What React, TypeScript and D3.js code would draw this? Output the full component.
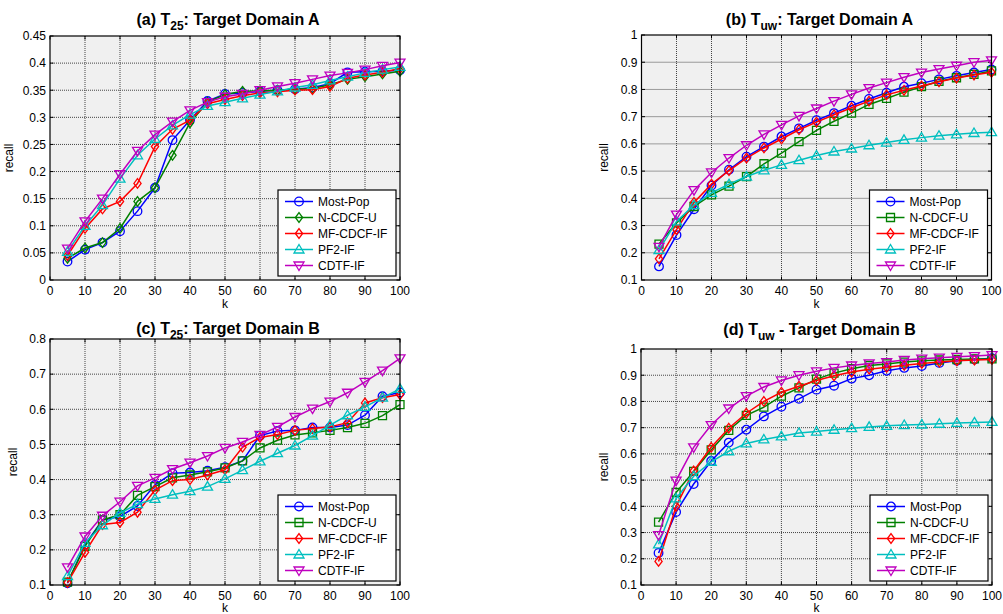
import React from "react";
import * as d3 from "d3";

const kValues = [5, 10, 15, 20, 25, 30, 35, 40, 45, 50, 55, 60, 65, 70, 75, 80, 85, 90, 95, 100];
const xTicks = [0, 10, 20, 30, 40, 50, 60, 70, 80, 90, 100];
const seriesNames = ["Most-Pop", "N-CDCF-U", "MF-CDCF-IF", "PF2-IF", "CDTF-IF"];
const seriesColors = ["#0000ff", "#008000", "#ff0000", "#00bfbf", "#bf00bf"];

// Panel (a) T25 Target Domain A
const aMostPop = [0.034, 0.056, 0.069, 0.09, 0.127, 0.17, 0.258, 0.295, 0.33, 0.343, 0.345, 0.348, 0.35, 0.352, 0.355, 0.362, 0.383, 0.384, 0.385, 0.387];
const aNCDCFU = [0.04, 0.059, 0.069, 0.095, 0.145, 0.17, 0.23, 0.29, 0.328, 0.342, 0.348, 0.349, 0.35, 0.352, 0.353, 0.36, 0.37, 0.375, 0.38, 0.385];
const aMFCDCFIF = [0.045, 0.095, 0.131, 0.145, 0.178, 0.246, 0.278, 0.295, 0.325, 0.333, 0.34, 0.345, 0.347, 0.35, 0.351, 0.357, 0.372, 0.378, 0.383, 0.39];
const aPF2IF = [0.052, 0.1, 0.138, 0.187, 0.23, 0.26, 0.285, 0.305, 0.321, 0.328, 0.335, 0.342, 0.348, 0.355, 0.36, 0.368, 0.375, 0.382, 0.388, 0.393];
const aCDTFIF = [0.058, 0.108, 0.15, 0.195, 0.238, 0.268, 0.292, 0.313, 0.328, 0.338, 0.343, 0.35, 0.357, 0.363, 0.37, 0.377, 0.382, 0.388, 0.395, 0.401];

// Panel (b) Tuw Target Domain A
const bMostPop = [0.15, 0.265, 0.36, 0.447, 0.505, 0.553, 0.59, 0.627, 0.657, 0.687, 0.713, 0.74, 0.765, 0.788, 0.81, 0.823, 0.837, 0.85, 0.862, 0.873];
const bNCDCFU = [0.232, 0.31, 0.37, 0.413, 0.445, 0.48, 0.527, 0.566, 0.608, 0.65, 0.683, 0.713, 0.745, 0.767, 0.79, 0.81, 0.83, 0.843, 0.855, 0.868];
const bMFCDCFIF = [0.178, 0.285, 0.385, 0.452, 0.502, 0.548, 0.585, 0.618, 0.652, 0.68, 0.707, 0.733, 0.757, 0.78, 0.797, 0.813, 0.828, 0.842, 0.853, 0.863];
const bPF2IF = [0.21, 0.315, 0.375, 0.42, 0.452, 0.48, 0.503, 0.523, 0.54, 0.557, 0.572, 0.583, 0.595, 0.605, 0.615, 0.623, 0.63, 0.635, 0.64, 0.643];
const bCDTFIF = [0.222, 0.34, 0.43, 0.495, 0.548, 0.595, 0.635, 0.67, 0.703, 0.73, 0.757, 0.782, 0.805, 0.825, 0.845, 0.862, 0.875, 0.887, 0.9, 0.907];

// Panel (c) T25 Target Domain B
const cMostPop = [0.105, 0.215, 0.285, 0.295, 0.325, 0.385, 0.418, 0.42, 0.425, 0.435, 0.453, 0.525, 0.538, 0.54, 0.548, 0.548, 0.555, 0.583, 0.637, 0.648];
const cNCDCFU = [0.108, 0.21, 0.285, 0.3, 0.355, 0.38, 0.405, 0.413, 0.422, 0.433, 0.453, 0.49, 0.512, 0.527, 0.533, 0.54, 0.548, 0.56, 0.582, 0.613];
const cMFCDCFIF = [0.107, 0.193, 0.272, 0.278, 0.307, 0.37, 0.397, 0.4, 0.413, 0.428, 0.492, 0.52, 0.528, 0.54, 0.545, 0.55, 0.562, 0.618, 0.633, 0.642];
const cPF2IF = [0.125, 0.22, 0.27, 0.305, 0.33, 0.345, 0.357, 0.367, 0.38, 0.402, 0.427, 0.452, 0.475, 0.497, 0.525, 0.555, 0.583, 0.607, 0.633, 0.658];
const cCDTFIF = [0.15, 0.238, 0.297, 0.337, 0.382, 0.405, 0.43, 0.448, 0.467, 0.49, 0.507, 0.527, 0.55, 0.578, 0.602, 0.622, 0.647, 0.678, 0.71, 0.745];

// Panel (d) Tuw Target Domain B
const dMostPop = [0.222, 0.378, 0.485, 0.573, 0.643, 0.692, 0.743, 0.78, 0.81, 0.845, 0.86, 0.887, 0.9, 0.917, 0.928, 0.935, 0.947, 0.955, 0.96, 0.965];
const dNCDCFU = [0.34, 0.453, 0.533, 0.615, 0.69, 0.747, 0.778, 0.82, 0.852, 0.885, 0.908, 0.925, 0.937, 0.943, 0.95, 0.955, 0.958, 0.96, 0.962, 0.962];
const dMFCDCFIF = [0.19, 0.4, 0.535, 0.625, 0.698, 0.755, 0.8, 0.835, 0.858, 0.88, 0.898, 0.912, 0.923, 0.93, 0.938, 0.945, 0.95, 0.955, 0.958, 0.96];
const dPF2IF = [0.255, 0.43, 0.515, 0.57, 0.61, 0.64, 0.655, 0.667, 0.68, 0.685, 0.692, 0.698, 0.703, 0.707, 0.71, 0.712, 0.715, 0.718, 0.72, 0.722];
const dCDTFIF = [0.29, 0.498, 0.625, 0.71, 0.773, 0.82, 0.855, 0.88, 0.9, 0.915, 0.928, 0.937, 0.945, 0.95, 0.958, 0.963, 0.967, 0.97, 0.973, 0.977];

const aYTicks = [0, 0.05, 0.1, 0.15, 0.2, 0.25, 0.3, 0.35, 0.4, 0.45];
const bYTicks = [0.1, 0.2, 0.3, 0.4, 0.5, 0.6, 0.7, 0.8, 0.9, 1];
const cYTicks = [0.1, 0.2, 0.3, 0.4, 0.5, 0.6, 0.7, 0.8];
const dYTicks = [0.1, 0.2, 0.3, 0.4, 0.5, 0.6, 0.7, 0.8, 0.9, 1];

type Panel = {
  pre: string; sub: string; post: string;
  series: number[][]; yTicks: number[]; markers: string[];
  x0: number; x1: number; yTop: number; yBot: number;
  titleY: number; ylabelX: number; klabelY: number;
};

const FONT = "'Liberation Sans', Arial, Helvetica, sans-serif";

const panels: Panel[] = [
  { pre: "(a) T", sub: "25", post: ": Target Domain A", series: [aMostPop, aNCDCFU, aMFCDCFIF, aPF2IF, aCDTFIF], yTicks: aYTicks,
    markers: ["circle", "diamond", "diamond", "up", "down"], x0: 50, x1: 400, yTop: 36, yBot: 280, titleY: 25, ylabelX: 13, klabelY: 308 },
  { pre: "(b) T", sub: "uw", post: ": Target Domain A", series: [bMostPop, bNCDCFU, bMFCDCFIF, bPF2IF, bCDTFIF], yTicks: bYTicks,
    markers: ["circle", "square", "diamond", "up", "down"], x0: 641.5, x1: 991.5, yTop: 35, yBot: 280, titleY: 25, ylabelX: 608, klabelY: 308 },
  { pre: "(c) T", sub: "25", post: ": Target Domain B", series: [cMostPop, cNCDCFU, cMFCDCFIF, cPF2IF, cCDTFIF], yTicks: cYTicks,
    markers: ["circle", "square", "diamond", "up", "down"], x0: 50, x1: 400, yTop: 339, yBot: 585, titleY: 334, ylabelX: 17, klabelY: 612 },
  { pre: "(d) T", sub: "uw", post: " - Target Domain B", series: [dMostPop, dNCDCFU, dMFCDCFIF, dPF2IF, dCDTFIF], yTicks: dYTicks,
    markers: ["circle", "square", "diamond", "up", "down"], x0: 641, x1: 992, yTop: 349, yBot: 585, titleY: 335, ylabelX: 608, klabelY: 612 },
];

function markerPath(kind: string, x: number, y: number): string {
  const s = 4.3;
  switch (kind) {
    case "circle":
      return `M${x - s},${y}a${s},${s} 0 1,0 ${2 * s},0a${s},${s} 0 1,0 ${-2 * s},0Z`;
    case "square":
      return `M${x - 4},${y - 4}h8v8h-8Z`;
    case "diamond":
      return `M${x},${y - 4.8}L${x + 3.6},${y}L${x},${y + 4.8}L${x - 3.6},${y}Z`;
    case "up":
      return `M${x},${y - 5}L${x + 5},${y + 3.5}L${x - 5},${y + 3.5}Z`;
    case "down":
      return `M${x},${y + 5}L${x + 5},${y - 3.5}L${x - 5},${y - 3.5}Z`;
  }
  return "";
}

const fmt = (v: number) => String(Number(v.toFixed(2)));

function PanelView({ p }: { p: Panel }) {
  const yMin = p.yTicks[0];
  const yMax = p.yTicks[p.yTicks.length - 1];
  const x = d3.scaleLinear().domain([0, 100]).range([p.x0, p.x1]);
  const y = d3.scaleLinear().domain([yMin, yMax]).range([p.yBot, p.yTop]);
  const line = d3.line<number>().x((_, i) => x(kValues[i])).y((d) => y(d));
  const cx = (p.x0 + p.x1) / 2;
  const lgW = 118, lgH = 86;
  const lgX = p.x1 - 4 - lgW;
  const lgY = p.yBot - 4 - lgH;
  return (
    <g>
      <rect x={p.x0} y={p.yTop} width={p.x1 - p.x0} height={p.yBot - p.yTop} fill="#f0f0f0" />
      {xTicks.slice(1, -1).map((t) => (
        <line key={"gx" + t} x1={x(t)} x2={x(t)} y1={p.yTop} y2={p.yBot} stroke="#444" strokeWidth={1} strokeDasharray="1 1" />
      ))}
      {p.yTicks.slice(1, -1).map((t) => (
        <line key={"gy" + t} x1={p.x0} x2={p.x1} y1={y(t)} y2={y(t)} stroke="#444" strokeWidth={1} strokeDasharray="1 1" />
      ))}
      {xTicks.map((t) => (
        <g key={"tx" + t}>
          <line x1={x(t)} x2={x(t)} y1={p.yBot} y2={p.yBot - 3.5} stroke="#000" />
          <line x1={x(t)} x2={x(t)} y1={p.yTop} y2={p.yTop + 3.5} stroke="#000" />
          <text x={x(t)} y={p.yBot + 15} textAnchor="middle" fontSize={12} fontFamily={FONT}>{t}</text>
        </g>
      ))}
      {p.yTicks.map((t) => (
        <g key={"ty" + t}>
          <line x1={p.x0} x2={p.x0 + 3.5} y1={y(t)} y2={y(t)} stroke="#000" />
          <line x1={p.x1} x2={p.x1 - 3.5} y1={y(t)} y2={y(t)} stroke="#000" />
          <text x={p.x0 - 4} y={y(t) + 4.3} textAnchor="end" fontSize={12} fontFamily={FONT}>{fmt(t)}</text>
        </g>
      ))}
      {p.series.map((s, si) => (
        <g key={"s" + si}>
          <path d={line(s) || ""} fill="none" stroke={seriesColors[si]} strokeWidth={1.5} />
          {s.map((v, i) => (
            <path key={i} d={markerPath(p.markers[si], x(kValues[i]), y(v))} fill="none" stroke={seriesColors[si]} strokeWidth={1.3} />
          ))}
        </g>
      ))}
      <rect x={p.x0} y={p.yTop} width={p.x1 - p.x0} height={p.yBot - p.yTop} fill="none" stroke="#000" strokeWidth={1.2} />
      <g>
        <rect x={lgX} y={lgY} width={lgW} height={lgH} fill="#fff" stroke="#000" strokeWidth={1.2} />
        {seriesNames.map((n, i) => {
          const ly = lgY + 11.5 + i * 16;
          return (
            <g key={n}>
              <line x1={lgX + 7} x2={lgX + 35} y1={ly} y2={ly} stroke={seriesColors[i]} strokeWidth={1.5} />
              <path d={markerPath(p.markers[i], lgX + 21, ly)} fill="none" stroke={seriesColors[i]} strokeWidth={1.3} />
              <text x={lgX + 40} y={ly + 4.3} fontSize={12} fontFamily={FONT}>{n}</text>
            </g>
          );
        })}
      </g>
      <text x={cx + 3} y={p.titleY} textAnchor="middle" fontSize={16} fontWeight="bold" fontFamily={FONT}>
        {p.pre}
        <tspan fontSize={12} dy={5}>{p.sub}</tspan>
        <tspan dy={-5}>{p.post}</tspan>
      </text>
      <text transform={`translate(${p.ylabelX},${(p.yTop + p.yBot) / 2}) rotate(-90)`} textAnchor="middle" fontSize={12} fontFamily={FONT}>recall</text>
      <text x={cx} y={p.klabelY} textAnchor="middle" fontSize={12} fontFamily={FONT}>k</text>
    </g>
  );
}

export default function App() {
  return (
    <svg width={1003} height={614} style={{ position: "absolute", left: 0, top: 0, background: "#fff" }}>
      <rect x={0} y={0} width={1003} height={614} fill="#fff" />
      {panels.map((p, i) => <PanelView key={i} p={p} />)}
    </svg>
  );
}
